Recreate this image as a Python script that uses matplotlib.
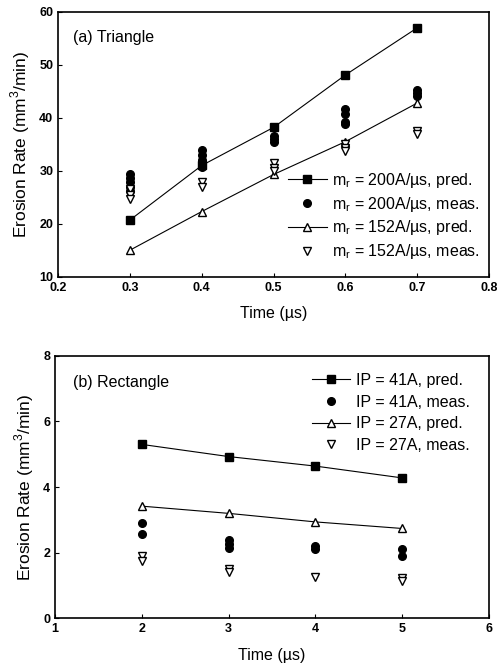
import matplotlib
matplotlib.use("Agg")
import matplotlib.pyplot as plt

plt.rcParams['font.family'] = ['Liberation Sans', 'DejaVu Sans']
plt.rcParams['mathtext.fontset'] = 'custom'
plt.rcParams['mathtext.rm'] = 'Liberation Sans'

# (a) Triangle
t_a = [0.3, 0.4, 0.5, 0.6, 0.7]
pred_200 = [20.7, 31.0, 38.2, 48.1, 57.0]
pred_152 = [15.0, 22.3, 29.3, 35.5, 42.8]
meas_200_t = [0.3]*5 + [0.4]*5 + [0.5]*3 + [0.6]*4 + [0.7]*3
meas_200 = [29.4, 28.6, 27.8, 27.0, 26.2,
            34.0, 33.0, 32.0, 31.2, 30.8,
            36.6, 36.0, 35.4,
            41.6, 40.8, 39.2, 38.9,
            45.3, 44.7, 44.2]
meas_152_t = [0.3]*3 + [0.4]*2 + [0.5]*3 + [0.6]*3 + [0.7]*2
meas_152 = [26.5, 25.5, 24.6,
            27.8, 27.0,
            31.5, 30.6, 29.9,
            35.0, 34.3, 33.8,
            37.6, 37.0]

# (b) Rectangle
t_b = [2, 3, 4, 5]
pred_41 = [5.3, 4.93, 4.64, 4.28]
pred_27 = [3.42, 3.2, 2.94, 2.74]
meas_41_t = [2, 2, 3, 3, 3, 4, 4, 5, 5]
meas_41 = [2.92, 2.58, 2.38, 2.28, 2.15, 2.2, 2.1, 2.13, 1.9]
meas_27_t = [2, 2, 3, 3, 4, 5, 5]
meas_27 = [1.9, 1.74, 1.52, 1.41, 1.25, 1.22, 1.13]

fig = plt.figure(figsize=(4.97, 6.65), dpi=100)
ax1 = fig.add_axes([0.117, 0.584, 0.867, 0.398])
ax2 = fig.add_axes([0.111, 0.070, 0.873, 0.395])

lw = 0.8
ms = 5.5
for ax in (ax1, ax2):
    ax.tick_params(direction='in', length=3, width=0.8, labelsize=9)
    for s in ax.spines.values():
        s.set_linewidth(1.2)
    ax.set_xlabel('Time (µs)', fontsize=11.5, labelpad=9)
    ax.set_ylabel('Erosion Rate (mm$^3$/min)', fontsize=12.5, labelpad=5)

ax1.plot(t_a, pred_200, '-', color='black', lw=lw, marker='s', ms=ms,
         label=r'm$_\mathrm{r}$ = 200A/µs, pred.')
ax1.plot(meas_200_t, meas_200, 'o', color='black', ms=ms,
         label=r'm$_\mathrm{r}$ = 200A/µs, meas.')
ax1.plot(t_a, pred_152, '-', color='black', lw=lw, marker='^', ms=ms,
         mfc='white', label=r'm$_\mathrm{r}$ = 152A/µs, pred.')
ax1.plot(meas_152_t, meas_152, 'v', color='black', ms=ms, mfc='white',
         ls='none', label=r'm$_\mathrm{r}$ = 152A/µs, meas.')
ax1.set_xlim(0.2, 0.8)
ax1.set_ylim(10, 60)
ax1.set_xticks([0.2, 0.3, 0.4, 0.5, 0.6, 0.7, 0.8])
ax1.set_yticks([10, 20, 30, 40, 50, 60])
ax1.text(0.035, 0.905, '(a) Triangle', transform=ax1.transAxes,
         fontsize=11.5, va='center')
ax1.legend(loc='upper left', bbox_to_anchor=(0.534, 0.40), frameon=False,
           fontsize=11.5, handlelength=2.4, handletextpad=0.35,
           borderaxespad=0, borderpad=0, labelspacing=0.3)

ax2.plot(t_b, pred_41, '-', color='black', lw=lw, marker='s', ms=ms,
         label='IP = 41A, pred.')
ax2.plot(meas_41_t, meas_41, 'o', color='black', ms=ms,
         label='IP = 41A, meas.')
ax2.plot(t_b, pred_27, '-', color='black', lw=lw, marker='^', ms=ms,
         mfc='white', label='IP = 27A, pred.')
ax2.plot(meas_27_t, meas_27, 'v', color='black', ms=ms, mfc='white',
         ls='none', label='IP = 27A, meas.')
ax2.set_xlim(1, 6)
ax2.set_ylim(0, 8)
ax2.set_xticks([1, 2, 3, 4, 5, 6])
ax2.set_yticks([0, 2, 4, 6, 8])
ax2.text(0.04, 0.897, '(b) Rectangle', transform=ax2.transAxes,
         fontsize=11.5, va='center')
ax2.legend(loc='upper left', bbox_to_anchor=(0.592, 0.935), frameon=False,
           fontsize=11.5, handlelength=2.4, handletextpad=0.35,
           borderaxespad=0, borderpad=0, labelspacing=0.42)

for ax in (ax1, ax2):
    for lab in ax.get_xticklabels() + ax.get_yticklabels():
        lab.set_fontweight('bold')

fig.savefig('out.png', dpi=100)
